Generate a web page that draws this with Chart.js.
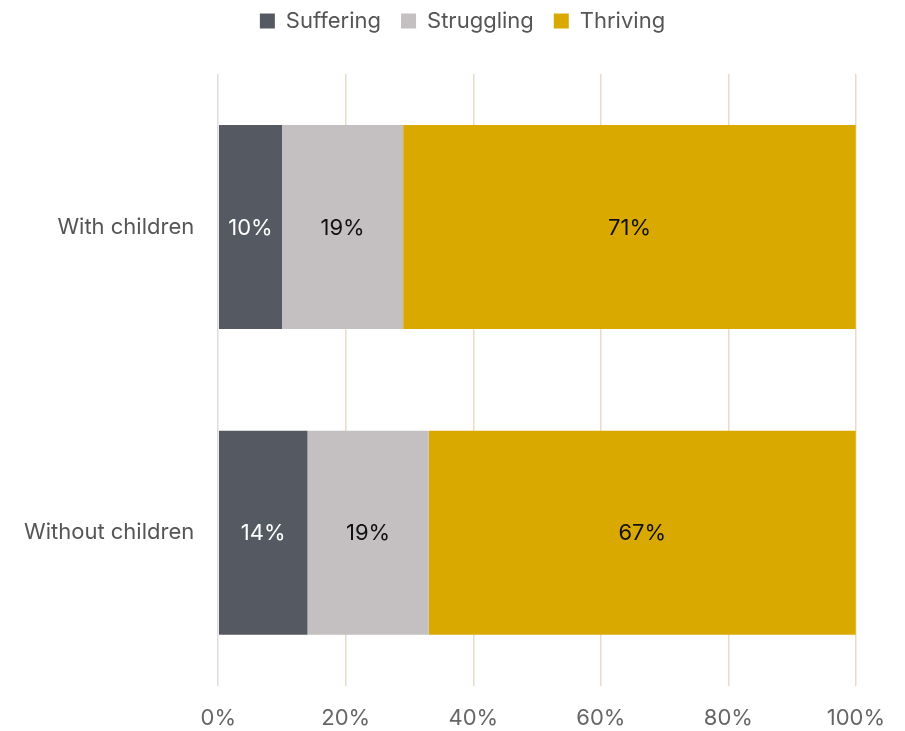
<!DOCTYPE html>
<html>
<head>
<meta charset="utf-8">
<script src="https://cdn.jsdelivr.net/npm/chart.js@4/dist/chart.umd.min.js"></script>
<style>
  html, body { margin: 0; padding: 0; background: #fff; }
  #wrap { width: 905px; height: 731px; }
</style>
</head>
<body>
<div id="wrap"><canvas id="chart"></canvas></div>
<script>
const categories = ["With children", "Without children"];
const suffering = [10, 14];
const struggling = [19, 19];
const thriving = [71, 67];
const tickValues = [0, 20, 40, 60, 80, 100];

// writes each value in the middle of its bar
const barLabels = {
  id: "barLabels",
  afterDatasetsDraw(chart) {
    const ctx = chart.ctx;
    ctx.save();
    ctx.font = "22px Inter";
    ctx.textAlign = "center";
    ctx.textBaseline = "middle";
    chart.data.datasets.forEach((ds, i) => {
      chart.getDatasetMeta(i).data.forEach((bar, j) => {
        const p = bar.getProps(["x", "y", "base"], true);
        ctx.fillStyle = ds.labelColor;
        ctx.fillText(ds.data[j] + "%", (p.x + p.base) / 2, p.y + 1);
      });
    });
    ctx.restore();
  },
};

// extra room under the legend, and legend centred a bit right of the page middle
const legendPlace = {
  id: "legendPlace",
  beforeInit(chart) {
    const fit = chart.legend.fit;
    chart.legend.fit = function () {
      fit.call(this);
      this.height += 32;
    };
  },
  beforeDraw(chart) {
    const lg = chart.legend;
    const d = chart.width / 2 + 10 - (lg.left + lg.right) / 2;
    lg.left += d;
    lg.right += d;
  },
};

const data = {
  labels: categories,
  datasets: [
    { label: "Suffering", data: suffering, backgroundColor: "#555a62", labelColor: "#ffffff" },
    { label: "Struggling", data: struggling, backgroundColor: "#c4c0c1", labelColor: "#111111" },
    { label: "Thriving", data: thriving, backgroundColor: "#d9a900", labelColor: "#111111" },
  ],
};

const config = {
  type: "bar",
  data: data,
  options: {
    indexAxis: "y",
    responsive: true,
    maintainAspectRatio: false,
    animation: false,
    layout: { padding: { left: 0, right: 48, top: -10, bottom: -21 } },
    datasets: { bar: { barPercentage: 0.667, categoryPercentage: 1, borderWidth: 0 } },
    plugins: {
      legend: {
        position: "top",
        labels: {
          color: "#555",
          font: { family: "Inter", size: 22 },
          boxWidth: 15,
          boxHeight: 15,
          padding: 20,
        },
      },
      tooltip: { enabled: false },
    },
    scales: {
      x: {
        stacked: true,
        min: 0,
        max: 100,
        afterBuildTicks: (axis) => {
          axis.ticks = tickValues.map((v) => ({ value: v }));
        },
        ticks: {
          color: "#666",
          font: { family: "Inter", size: 22 },
          padding: 20,
          callback: (v) => v + "%",
        },
        grid: {
          drawTicks: false,
          lineWidth: 1.5,
          color: (c) => (c.index === 0 ? "#dddddd" : "#e8dcc6"),
        },
        border: { display: false },
      },
      y: {
        stacked: true,
        ticks: {
          color: "#555",
          font: { family: "Inter", size: 22 },
          padding: 24,
        },
        grid: { display: false, drawTicks: false },
        border: { display: false },
      },
    },
  },
  plugins: [barLabels, legendPlace],
};

const chart = new Chart(document.getElementById("chart"), config);
</script>
</body>
</html>
